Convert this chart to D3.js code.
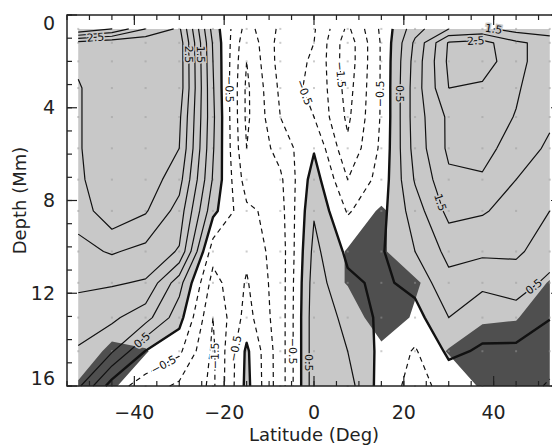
<!DOCTYPE html>
<html>
<head>
<meta charset="utf-8">
<script src="https://cdn.jsdelivr.net/npm/d3@7"></script>
<style>
  body { margin: 0; background: #fff; }
  svg text { font-family: "DejaVu Sans", sans-serif; }
</style>
</head>
<body>
<div id="chart"></div>
<script>
// Chart setup
var svgWidth = 552;
var svgHeight = 446;
var margin = { top: 15, left: 67 };
var chartWidth = 494;
var chartHeight = 371;

// grid of the measurement
var lats = [-52.5, -45, -37.5, -30, -22.5, -15, -7.5, 0, 7.5, 15, 22.5, 30, 37.5, 45, 52.5];
var depths = [0.6, 1.2, 2.0, 3.15, 4.4, 5.75, 7.1, 8.45, 10.2, 11.55, 13.05, 14.5, 16.0];

// flow values, one row per depth (top to bottom), one entry per latitude
var flow = [
  [1.0, 1.5, 2.5, 3.1, 0.3, -1.2, -0.4, -0.45, -1.6, -0.4, 0.8, 1.5, 1.6, 1.3, 1.2],
  [3.2, 3.4, 3.4, 3.3, 0.45, -1.4, -0.3, -0.5, -1.8, -0.45, 1.1, 2.55, 2.7, 2.1, 1.8],
  [3.1, 3.4, 3.4, 3.3, 0.5, -1.5, -0.3, -0.55, -1.8, -0.45, 1.2, 2.6, 2.8, 2.1, 1.8],
  [2.95, 3.4, 3.4, 3.3, 0.55, -1.6, -0.4, -0.55, -1.7, -0.45, 1.25, 2.5, 2.4, 2.05, 1.7],
  [2.95, 3.4, 3.4, 3.1, 0.6, -1.6, -0.5, -0.5, -1.6, -0.45, 1.25, 2.1, 2.2, 1.98, 1.6],
  [2.95, 3.4, 3.35, 3.0, 0.55, -1.5, -0.8, -0.05, -1.4, -0.4, 1.2, 2.1, 2.15, 1.8, 1.4],
  [2.9, 3.4, 3.3, 2.7, 0.45, -1.25, -1.1, 0.25, -1.0, -0.3, 1.05, 1.9, 1.95, 1.5, 1.2],
  [2.7, 3.37, 3.05, 2.3, 0.15, -0.9, -1.2, 0.45, -0.55, -0.15, 0.75, 1.65, 1.55, 1.3, 1.0],
  [2.35, 2.55, 2.35, 1.95, -0.8, -0.6, -1.3, 0.65, -0.11, -0.05, 0.5, 1.15, 1.1, 1.1, 0.7],
  [2.1, 2.05, 1.95, 0.7, -1.2, -0.45, -1.3, 0.75, 0.1, -0.1, 0.16, 0.85, 0.6, 0.7, 0.4],
  [1.75, 1.6, 1.2, 0.2, -1.5, -0.3, -1.3, 0.8, 0.375, -0.12, -0.2, 0.5, 0.2, 0.3, 0.02],
  [1.45, 1.05, -0.02, -0.4, -1.6, 0.1, -1.3, 0.8, 0.5, -0.13, -0.55, 0.1, -0.06, -0.1, -0.3],
  [1.1, -0.25, -0.75, -1.1, -1.6, 0.15, -1.3, 0.8, 0.7, -0.2, -0.7, -0.3, -0.5, -0.3, -0.55]
];

// dark shaded areas (1 = shaded), same grid
var shade = [
  [0, 0, 0, 0, 0, 0, 0, 0, 0, 0, 0, 0, 0, 0, 0],
  [0, 0, 0, 0, 0, 0, 0, 0, 0, 0, 0, 0, 0, 0, 0],
  [0, 0, 0, 0, 0, 0, 0, 0, 0, 0, 0, 0, 0, 0, 0],
  [0, 0, 0, 0, 0, 0, 0, 0, 0, 0, 0, 0, 0, 0, 0],
  [0, 0, 0, 0, 0, 0, 0, 0, 0, 0, 0, 0, 0, 0, 0],
  [0, 0, 0, 0, 0, 0, 0, 0, 0, 0, 0, 0, 0, 0, 0],
  [0, 0, 0, 0, 0, 0, 0, 0, 0, 0, 0, 0, 0, 0, 0],
  [0, 0, 0, 0, 0, 0, 0, 0, 0, 0.6, 0, 0, 0, 0, 0],
  [0, 0, 0, 0, 0, 0, 0, 0, 0.55, 0.6, 0, 0, 0, 0, 0],
  [0, 0, 0, 0, 0, 0, 0, 0, 0.55, 1, 0.6, 0, 0, 0, 0.55],
  [0, 0, 0, 0, 0, 0, 0, 0, 0, 1, 0.4, 0, 0.45, 0.45, 1],
  [0, 0.7, 0.55, 0, 0, 0, 0, 0, 0, 0.3, 0, 0.55, 0.7, 1, 1],
  [0.6, 0.6, 0, 0, 0, 0, 0, 0, 0, 0, 0, 0, 0.6, 1, 1]
];

var levels = [-2, -1.5, -1, -0.5, 0, 0.5, 1, 1.5, 2, 2.5, 3];

// contour labels: level, lat, depth
var labelLevels = [2.5, 2.5, 1.5, -0.5, -0.5, -1.5, -0.5, 0.5, 1.5, 2.5, 1.5, 0.5, 0.5, -0.5, -1.5, -0.5, -0.5, 0.5];
var labelLats = [-48.7, -28.3, -25.3, -18.2, -0.4, 4.4, 16.4, 20, 39.8, 36, 27.8, 47.3, -40.2, -34, -21.3, -17, -4.7, -1.3];
var labelDepths = [0.75, 1.7, 1.7, 3.2, 3.2, 2.6, 3.4, 3.4, 0.75, 1.1, 8.1, 11.3, 13.6, 14.9, 14.7, 14.4, 14.5, 15.0];

var xTicks = [-40, -20, 0, 20, 40];
var yTicks = [0, 4, 8, 12, 16];

var svg = d3.select("#chart")
  .append("svg")
  .attr("width", svgWidth)
  .attr("height", svgHeight);

var chartGroup = svg.append("g")
  .attr("transform", `translate(${margin.left}, ${margin.top})`);

var x = d3.scaleLinear().domain([-55, 55]).range([0, chartWidth]);
var y = d3.scaleLinear().domain([0, 16]).range([0, chartHeight]);

var nx = lats.length, ny = depths.length;
var colToLat = d3.scaleLinear().domain(d3.range(nx)).range(lats);
var rowToDepth = d3.scaleLinear().domain(d3.range(ny)).range(depths);

// d3.contours puts grid node i at i + 0.5, clamp to the data box
function toIndex(p) {
  return [Math.max(0, Math.min(nx - 1, p[0] - 0.5)), Math.max(0, Math.min(ny - 1, p[1] - 0.5))];
}
function toPixel(q) {
  return [x(colToLat(q[0])), y(rowToDepth(q[1]))];
}

function polyPath(multi) {
  var s = "";
  multi.coordinates.forEach(function(poly) {
    poly.forEach(function(ring) {
      ring.forEach(function(p, i) {
        var q = toPixel(toIndex(p));
        s += (i ? "L" : "M") + q[0].toFixed(2) + "," + q[1].toFixed(2);
      });
      s += "Z";
    });
  });
  return s;
}

// cut the ring where it runs along the border of the data box
function ringToLines(ring) {
  var pts = ring.map(toIndex);
  var n = pts.length - 1;
  function onEdge(a, b) {
    return (a[0] === 0 && b[0] === 0) || (a[0] === nx - 1 && b[0] === nx - 1) ||
           (a[1] === 0 && b[1] === 0) || (a[1] === ny - 1 && b[1] === ny - 1);
  }
  var keep = [];
  for (var i = 0; i < n; i++) keep.push(!onEdge(pts[i], pts[i + 1]));
  var start = keep.indexOf(false);
  if (start < 0) return [pts.map(toPixel)];
  var lines = [], cur = null;
  for (var k = 1; k <= n; k++) {
    var j = (start + k) % n;
    if (keep[j]) {
      if (!cur) cur = [pts[j]];
      cur.push(pts[j + 1]);
    } else if (cur) {
      lines.push(cur);
      cur = null;
    }
  }
  if (cur) lines.push(cur);
  return lines.map(function(l) { return l.map(toPixel); });
}

var flat = d3.merge(flow);
var contours = d3.contours().size([nx, ny]).thresholds(levels)(flat);
var shadeContours = d3.contours().size([nx, ny]).thresholds([0.5])(d3.merge(shade));

// positive region in light gray
var zeroContour = contours.find(c => c.value === 0);
chartGroup.append("path")
  .attr("d", polyPath(zeroContour))
  .attr("fill", "#c8c8c8")
  .attr("fill-rule", "evenodd");

// dark areas
chartGroup.append("path")
  .attr("d", polyPath(shadeContours[0]))
  .attr("fill", "#4f4f4f")
  .attr("fill-rule", "evenodd");

// grid points
var nodes = [];
depths.forEach(function(d) { lats.forEach(function(l) { nodes.push([l, d]); }); });
chartGroup.selectAll("rect.node")
  .data(nodes)
  .enter().append("rect")
  .attr("class", "node")
  .attr("x", d => x(d[0]) - 1)
  .attr("y", d => y(d[1]) - 1)
  .attr("width", 2)
  .attr("height", 2)
  .attr("fill", "#999")
  .attr("opacity", 0.5);

// contour lines
var lineGen = d3.line();
var linesByLevel = {};
contours.forEach(function(c) {
  var lines = [];
  c.coordinates.forEach(function(poly) {
    poly.forEach(function(ring) { lines = lines.concat(ringToLines(ring)); });
  });
  linesByLevel[c.value] = lines;
  chartGroup.append("g")
    .selectAll("path")
    .data(lines)
    .enter().append("path")
    .attr("d", lineGen)
    .attr("fill", "none")
    .attr("stroke", "#111")
    .attr("stroke-width", c.value === 0 ? 2.4 : 1.2)
    .attr("stroke-dasharray", c.value < 0 ? "5,4" : null)
    .attr("stroke-linejoin", "round");
});

// labels along the lines
labelLevels.forEach(function(lv, i) {
  var px = x(labelLats[i]), py = y(labelDepths[i]);
  var best = null, bestD = Infinity;
  (linesByLevel[lv] || []).forEach(function(line) {
    for (var k = 0; k < line.length - 1; k++) {
      var a = line[k], b = line[k + 1];
      var mx = (a[0] + b[0]) / 2, my = (a[1] + b[1]) / 2;
      var dd = (mx - px) * (mx - px) + (my - py) * (my - py);
      if (dd < bestD) { bestD = dd; best = [a, b]; }
    }
  });
  if (!best) return;
  var a = best[0], b = best[1];
  var t = Math.max(0, Math.min(1, ((px - a[0]) * (b[0] - a[0]) + (py - a[1]) * (b[1] - a[1])) /
          ((b[0] - a[0]) * (b[0] - a[0]) + (b[1] - a[1]) * (b[1] - a[1]) || 1)));
  var cx = a[0] + t * (b[0] - a[0]), cy = a[1] + t * (b[1] - a[1]);
  var ang = Math.atan2(b[1] - a[1], b[0] - a[0]) * 180 / Math.PI;
  if (ang > 90) ang -= 180;
  if (ang < -90) ang += 180;
  chartGroup.append("text")
    .attr("transform", `translate(${cx},${cy}) rotate(${ang})`)
    .attr("text-anchor", "middle")
    .attr("dy", "0.35em")
    .attr("font-size", 11)
    .attr("stroke", lv >= 0 ? "#c8c8c8" : "#fff")
    .attr("stroke-width", 3)
    .attr("paint-order", "stroke")
    .attr("fill", "#111")
    .text(d3.format(".1f")(lv));
});

// frame and axes
chartGroup.append("rect")
  .attr("width", chartWidth)
  .attr("height", chartHeight)
  .attr("fill", "none")
  .attr("stroke", "#222")
  .attr("stroke-width", 1.5);

function tickMarks(vals, len, side) {
  chartGroup.append("g").selectAll("line")
    .data(vals)
    .enter().append("line")
    .attr("x1", d => side === "bottom" || side === "top" ? x(d) : (side === "left" ? 0 : chartWidth))
    .attr("x2", d => side === "bottom" || side === "top" ? x(d) : (side === "left" ? len : chartWidth - len))
    .attr("y1", d => side === "bottom" ? chartHeight : (side === "top" ? 0 : y(d)))
    .attr("y2", d => side === "bottom" ? chartHeight - len : (side === "top" ? len : y(d)))
    .attr("stroke", "#222")
    .attr("stroke-width", 1.2);
}
var minorX = d3.range(-55, 56, 5);
var minorY = d3.range(0, 17, 1);
tickMarks(minorX, 5, "bottom");
tickMarks(minorX, 5, "top");
tickMarks(xTicks, 10, "bottom");
tickMarks(xTicks, 10, "top");
tickMarks(minorY, 5, "left");
tickMarks(minorY, 5, "right");
tickMarks(yTicks, 10, "left");
tickMarks(yTicks, 10, "right");

chartGroup.append("g").selectAll("text")
  .data(xTicks)
  .enter().append("text")
  .attr("x", d => x(d))
  .attr("y", chartHeight + 33)
  .attr("text-anchor", "middle")
  .attr("font-size", 19)
  .attr("fill", "#222")
  .text(d => d < 0 ? "\u2212" + Math.abs(d) : d);

chartGroup.append("g").selectAll("text")
  .data(yTicks)
  .enter().append("text")
  .attr("x", -12)
  .attr("y", d => y(d) + (d === 0 ? 8 : (d === 16 ? -8 : 0)))
  .attr("dy", "0.35em")
  .attr("text-anchor", "end")
  .attr("font-size", 19)
  .attr("fill", "#222")
  .text(d => d);

chartGroup.append("text")
  .attr("x", x(0))
  .attr("y", chartHeight + 55)
  .attr("text-anchor", "middle")
  .attr("font-size", 18)
  .attr("fill", "#222")
  .text("Latitude (Deg)");

chartGroup.append("text")
  .attr("transform", `translate(${-41}, ${chartHeight / 2}) rotate(-90)`)
  .attr("text-anchor", "middle")
  .attr("font-size", 18)
  .attr("fill", "#222")
  .text("Depth (Mm)");
</script>
</body>
</html>
